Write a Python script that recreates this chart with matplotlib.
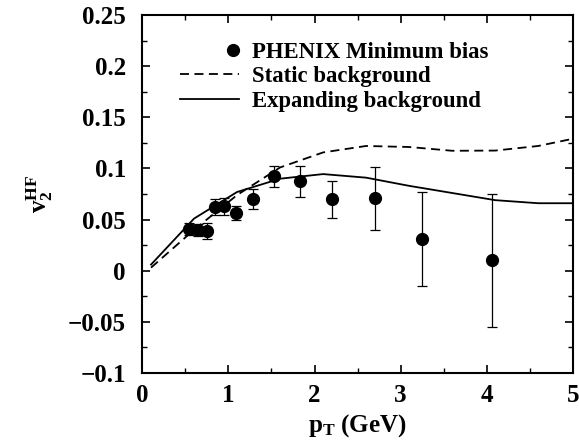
import numpy as np
import matplotlib
matplotlib.use("Agg")
import matplotlib.pyplot as plt
from matplotlib.legend_handler import HandlerLine2DCompound
from matplotlib.lines import Line2D
from matplotlib.ticker import MultipleLocator

plt.rcParams['font.family'] = 'Liberation Serif'
plt.rcParams['font.weight'] = 'bold'
plt.rcParams['axes.labelweight'] = 'bold'
plt.rcParams['mathtext.fontset'] = 'custom'
plt.rcParams['mathtext.rm'] = 'Liberation Serif:bold'
plt.rcParams['mathtext.bf'] = 'Liberation Serif:bold'
plt.rcParams['mathtext.it'] = 'Liberation Serif:bold'

# PHENIX minimum bias data
pt_data = [0.54, 0.645, 0.746, 0.847, 0.948, 1.088, 1.286, 1.527, 1.83, 2.2, 2.70, 3.25, 4.06]
v2_data = [0.0405, 0.040, 0.0388, 0.0626, 0.063, 0.0567, 0.070, 0.0926, 0.0874, 0.0698, 0.0708, 0.031, 0.0102]
v2_err = [0.006, 0.006, 0.0075, 0.008, 0.0085, 0.007, 0.0095, 0.0103, 0.015, 0.018, 0.031, 0.046, 0.065]

# model curves
pt_curve = [0.1, 0.6, 1.1, 1.6, 2.1, 2.6, 3.1, 3.6, 4.1, 4.6, 5.0]
v2_static = [0.003, 0.040, 0.074, 0.101, 0.1157, 0.122, 0.121, 0.1173, 0.1175, 0.122, 0.129]
v2_expand = [0.006, 0.051, 0.077, 0.090, 0.0945, 0.091, 0.083, 0.076, 0.069, 0.066, 0.066]


class RightMarker(HandlerLine2DCompound):
    # put the single marker at the right end of the handle, like the original
    def get_xdata(self, legend, xdescent, ydescent, width, height, fontsize):
        xdata = np.array([-xdescent, -xdescent + width])
        return xdata, np.array([-xdescent + width * 0.9])


fig = plt.figure(figsize=(5.79, 4.44), dpi=100)
ax = fig.add_axes([0.246, 0.16, 0.743, 0.806])

l_static, = ax.plot(pt_curve, v2_static, color='black', lw=1.3, ls=(0, (5, 3)))
l_expand, = ax.plot(pt_curve, v2_expand, color='black', lw=1.3)
ax.errorbar(pt_data, v2_data, yerr=v2_err, fmt='o', color='black', ms=8.5,
            elinewidth=0.9, capsize=3.5, capthick=0.9)

ax.set_xlim(0, 5)
ax.set_ylim(-0.1, 0.25)
ax.xaxis.set_major_locator(MultipleLocator(1))
ax.xaxis.set_minor_locator(MultipleLocator(0.5))
ax.yaxis.set_minor_locator(MultipleLocator(0.025))
ax.set_yticks(np.arange(-0.1, 0.26, 0.05))
ax.set_yticklabels(['\u22120.1', '\u22120.05', '0', '0.05', '0.1', '0.15', '0.2', '0.25'])
ax.tick_params(which='both', direction='in', top=True, right=True, labelsize=18)
ax.tick_params(which='major', length=6, width=1.2, pad=8)
ax.tick_params(axis='y', which='major', pad=12)
ax.tick_params(which='minor', length=3.5, width=1.0)
for s in ax.spines.values():
    s.set_linewidth(1.5)

ax.set_xlabel(r'$\mathbf{p_T}$ (GeV)', fontsize=18, labelpad=4)
ax.set_ylabel(r'$\mathbf{v_2^{HF}}$', fontsize=18, labelpad=9)

dot = Line2D([], [], ls='none', marker='o', color='black', ms=8.5)
ax.legend([dot, l_static, l_expand],
          ['PHENIX Minimum bias', 'Static background', 'Expanding background'],
          loc='upper left', bbox_to_anchor=(0.04, 0.982), frameon=False, fontsize=16.4,
          handlelength=2.6, handletextpad=0.55, labelspacing=0.15,
          handler_map={dot: RightMarker()})

fig.savefig('out.png', dpi=100)
